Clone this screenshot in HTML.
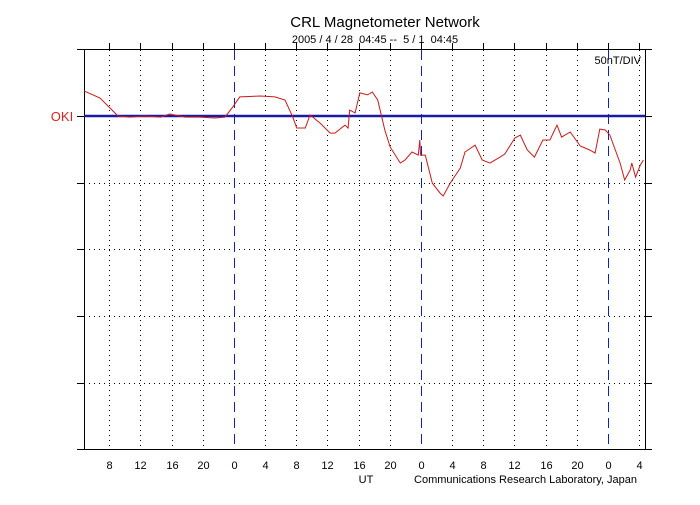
<!DOCTYPE html>
<html><head><meta charset="utf-8"><style>
body{margin:0;background:#fff;}
svg text{font-family:"Liberation Sans",sans-serif;}
</style></head><body>
<svg id="chart" width="700" height="500">
<rect width="700" height="500" fill="#fff"/>
<text x="385" y="27" font-size="15" text-anchor="middle">CRL Magnetometer Network</text>
<text x="375" y="43" font-size="11" text-anchor="middle" xml:space="preserve">2005 / 4 / 28  04:45 --  5 / 1  04:45</text>
<text x="641" y="64" font-size="11" text-anchor="end">50nT/DIV</text>
<text x="62" y="121" font-size="13" fill="#d22" text-anchor="middle">OKI</text>
<text x="366" y="483" font-size="11" text-anchor="middle">UT</text>
<text x="637" y="483" font-size="11" text-anchor="end">Communications Research Laboratory, Japan</text>
<g id="grid"></g><g id="days"></g><g id="axes"></g><g id="series"></g>
</svg>
<script>
const hours=[0,2.05,3.34,4.36,5.9,7.8,9.8,11.0,13.0,14.9,16.8,18.1,19.1,20.0,22.6,24.5,25.8,26.8,27.3,28.4,29.0,30.3,31.6,32.2,33.5,33.9,34.1,34.8,35.4,36.4,37.0,37.7,38.0,38.6,39.3,40.6,41.2,42.1,42.9,43.1,43.2,43.8,44.7,45.7,46.1,47.0,48.3,48.9,50.2,51.1,52.1,53.4,54.0,55.3,56.0,56.9,57.8,58.9,59.8,60.7,61.3,62.4,63.7,64.9,65.6,66.2,66.9,67.5,68.1,68.8,69.4,70.1,70.3,70.8,71.4,71.8];
const values=[18.8,13.5,6,0,-0.8,0,-0.8,1.5,-0.8,-0.8,-1.5,-0.8,6.8,14.3,15,14.3,12,-0.8,-9,-9,0.8,-5.3,-12.8,-12.8,-6.8,-9,4.5,2.3,17.3,15.8,18,12,4.5,-10.5,-23.3,-35.3,-33,-27,-29.3,-18,-29.3,-29.3,-50.3,-57.8,-60,-50.3,-39,-27,-21.8,-33,-35.3,-30.8,-28.5,-16.5,-14.3,-25.5,-30.8,-18,-18,-6.8,-15.8,-12,-22.5,-25.5,-27.8,-9.8,-10.5,-14.3,-24,-35.3,-48,-40.5,-35.3,-45.8,-36.8,-33];
const tickLabels=["8","12","16","20","0","4","8","12","16","20","0","4","8","12","16","20","0","4"];
const tickHours=[3.25,7.25,11.25,15.25,19.25,23.25,27.25,31.25,35.25,39.25,43.25,47.25,51.25,55.25,59.25,63.25,67.25,71.25];
const yDivs=[50,0,-50,-100,-150,-200];
const L=84,R=645,T=49,B=449,base=116;
const x=h=>L+h*(R-L)/72;
const y=v=>base-v*(66.67/50);
const NS="http://www.w3.org/2000/svg";
function mk(tag,attrs,parent){const e=document.createElementNS(NS,tag);for(const k in attrs)e.setAttribute(k,attrs[k]);document.getElementById(parent).appendChild(e);return e;}
[T,B].concat(yDivs.map(y)).forEach(v=>{const yy=Math.round(v)+0.5;
 const t1=mk('line',{x1:L-7,x2:L,y1:yy,y2:yy,stroke:'#000'},'axes');
 
 
 const t2=mk('line',{x1:R,x2:R+7,y1:yy,y2:yy,stroke:'#000'},'axes');
 
 
});
yDivs.forEach(v=>{const yy=Math.round(y(v))+0.5;
 if(v!==0){const g=mk('line',{x1:L,x2:R,y1:yy,y2:yy,stroke:'#000','stroke-width':1,'stroke-dasharray':'1 4'},'grid');
 
 }
});
tickHours.forEach((h,i)=>{const xx=Math.round(x(h))+0.5;const zero=tickLabels[i]==="0";
 const g=mk('line',{x1:xx,x2:xx,y1:T+1,y2:B,stroke:zero?'#1020c0':'#000','stroke-width':1,'stroke-dasharray':zero?'10 6':'1 4'},zero?'days':'grid');
 
 
 const tt=mk('line',{x1:xx,x2:xx,y1:T-6,y2:T,stroke:'#000'},'axes');
 
 
 const lb=mk('text',{x:xx,y:469,'font-size':11,'text-anchor':'middle'},'axes');lb.textContent=tickLabels[i];
 
 
});
[[L,T+0.5,R+1,T+0.5],[L+0.5,T,L+0.5,B],[R+0.5,T,R+0.5,B],[77,B+0.5,650,B+0.5]].forEach(s=>{const f=mk('line',{x1:s[0],y1:s[1],x2:s[2],y2:s[3],stroke:'#000'},'axes');
 
 });
const bl=mk('line',{x1:L,x2:R,y1:base,y2:base,stroke:'#1a1aa8','stroke-width':2.5},'series');


const p=mk('polyline',{points:hours.map((h,i)=>x(h).toFixed(1)+','+y(values[i]).toFixed(1)).join(' '),fill:'none',stroke:'#d01818','stroke-width':1},'series');


</script>
</body></html>
